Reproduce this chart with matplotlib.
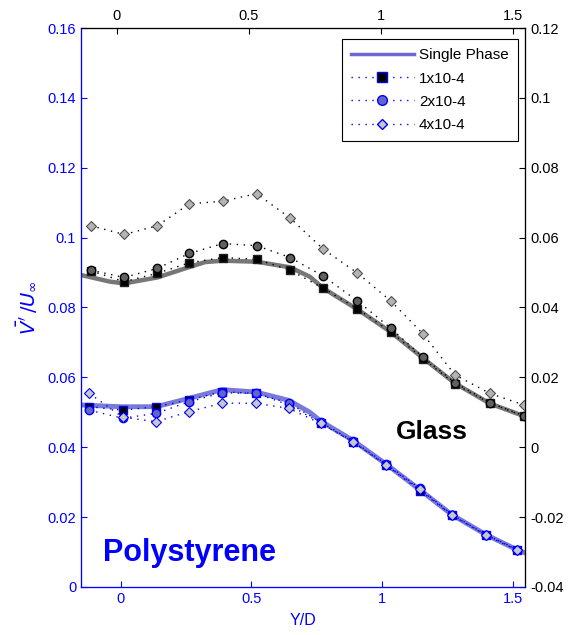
import numpy as np
import matplotlib
matplotlib.use("Agg")
import matplotlib.pyplot as plt
from matplotlib.ticker import FuncFormatter
from matplotlib.lines import Line2D

plt.rcParams["font.family"] = ["Liberation Sans", "DejaVu Sans"]
plt.rcParams["axes.unicode_minus"] = False

# glass data, read against the right axis
x_glass = [-0.115, 0.013, 0.140, 0.263, 0.390, 0.520, 0.648, 0.775, 0.905, 1.033, 1.157, 1.279, 1.413, 1.543]
glass_1e4 = [0.0505, 0.0474, 0.0498, 0.0528, 0.0543, 0.0538, 0.0507, 0.0455, 0.0397, 0.0330, 0.0254, 0.0181, 0.0126, 0.0089]
glass_2e4 = [0.0507, 0.0486, 0.0512, 0.0555, 0.0583, 0.0577, 0.0543, 0.0490, 0.0419, 0.0341, 0.0257, 0.0185, 0.0127, 0.0090]
glass_4e4 = [0.0634, 0.0609, 0.0634, 0.0697, 0.0704, 0.0726, 0.0656, 0.0567, 0.0499, 0.0419, 0.0324, 0.0207, 0.0154, 0.0121]
x_glass_sp = [-0.152, -0.041, 0.013, 0.140, 0.263, 0.323, 0.390, 0.520, 0.648, 0.724, 0.775, 0.905, 1.033, 1.157, 1.279, 1.413, 1.547]
glass_sp = [0.0493, 0.0474, 0.0469, 0.0486, 0.0516, 0.0530, 0.0534, 0.0531, 0.0515, 0.0488, 0.0455, 0.0395, 0.0330, 0.0255, 0.0183, 0.0125, 0.0088]

# polystyrene data, read against the left axis
x_poly = [-0.120, 0.008, 0.135, 0.261, 0.388, 0.518, 0.644, 0.765, 0.888, 1.015, 1.145, 1.267, 1.397, 1.518]
poly_1e4 = [0.0516, 0.0506, 0.0516, 0.0535, 0.0559, 0.0554, 0.0521, 0.0470, 0.0416, 0.0349, 0.0276, 0.0206, 0.0148, 0.0105]
poly_2e4 = [0.0506, 0.0483, 0.0497, 0.0530, 0.0556, 0.0554, 0.0526, 0.0472, 0.0418, 0.0352, 0.0282, 0.0207, 0.0150, 0.0107]
poly_4e4 = [0.0554, 0.0486, 0.0473, 0.0502, 0.0526, 0.0526, 0.0511, 0.0468, 0.0416, 0.0350, 0.0280, 0.0206, 0.0150, 0.0106]
x_poly_sp = [-0.152, 0.000, 0.135, 0.261, 0.388, 0.518, 0.644, 0.724, 0.765, 0.888, 1.015, 1.145, 1.267, 1.397, 1.518, 1.547]
poly_sp = [0.0521, 0.0516, 0.0516, 0.0540, 0.0565, 0.0558, 0.0534, 0.0500, 0.0475, 0.0420, 0.0352, 0.0278, 0.0207, 0.0150, 0.0106, 0.0098]

labels = ["Single Phase", "1x10-4", "2x10-4", "4x10-4"]

BLUE = "#0000ff"
fmt = FuncFormatter(lambda v, p: "%g" % round(v, 4))

fig = plt.figure(figsize=(5.69, 6.35), dpi=100)
ax = fig.add_axes([0.1424, 0.0756, 0.7803, 0.8803])
ax_r = ax.twinx()
ax_t = ax.twiny()

ax.set_xlim(-0.152, 1.547)
ax.set_ylim(0, 0.16)
ax_r.set_ylim(-0.04, 0.12)
ax_t.set_xlim(-0.135, 1.547)

# polystyrene on left axis
ax.plot(x_poly_sp, poly_sp, color="#6a6ad2", lw=3.5, alpha=0.9, zorder=2)
dot = (0, (1, 4))
ax.plot(x_poly, poly_1e4, ls=dot, color=BLUE, lw=1, marker="s", ms=6,
        mfc="black", mec=BLUE, mew=1, zorder=3)
ax.plot(x_poly, poly_2e4, ls=dot, color=BLUE, lw=1, marker="o", ms=6,
        mfc="#6464c8", mec=BLUE, mew=1, zorder=4)
ax.plot(x_poly, poly_4e4, ls=dot, color=BLUE, lw=1, marker="D", ms=5,
        mfc="#c8c8c8", mec=BLUE, mew=0.8, zorder=5)

# glass on right axis
ax_r.plot(x_glass_sp, glass_sp, color="#777777", lw=3.2, zorder=2)
ax_r.plot(x_glass, glass_1e4, ls=dot, color="black", lw=1, marker="s", ms=6,
          mfc="black", mec="#202020", zorder=3)
ax_r.plot(x_glass, glass_2e4, ls=dot, color="black", lw=1, marker="o", ms=6,
          mfc="#606060", mec="black", zorder=4)
ax_r.plot(x_glass, glass_4e4, ls=dot, color="black", lw=1, marker="D", ms=5,
          mfc="#b4b4b4", mec="#505050", mew=0.8, zorder=5)

# ticks and spines
ax.set_xticks([0, 0.5, 1, 1.5])
ax.set_yticks(np.arange(0, 0.161, 0.02))
ax.xaxis.set_major_formatter(fmt)
ax.yaxis.set_major_formatter(fmt)
ax.tick_params(axis="both", direction="in", length=4.5, colors=BLUE, labelsize=10.5, top=False, right=False)
ax_r.set_yticks(np.arange(-0.04, 0.121, 0.02))
ax_r.yaxis.set_major_formatter(fmt)
ax_r.tick_params(axis="y", direction="in", length=4.5, colors="black", labelsize=10.5)
ax_t.set_xticks([0, 0.5, 1, 1.5])
ax_t.xaxis.set_major_formatter(fmt)
ax_t.tick_params(axis="x", direction="in", length=4.5, colors="black", labelsize=10.5)

for a in (ax, ax_r, ax_t):
    a.spines["left"].set_color(BLUE)
    a.spines["bottom"].set_color(BLUE)
    a.spines["top"].set_color("black")
    a.spines["right"].set_color("black")

ax.set_xlabel("Y/D", color=BLUE, fontsize=11.5, labelpad=5)
ax.set_ylabel(r"$\bar{V'}\,/U_\infty$", color=BLUE, fontsize=14, labelpad=6)

ax.text(-0.068, 0.0055, "Polystyrene", color=BLUE, fontsize=22, fontweight="bold", ha="left", va="bottom")
ax_r.text(1.19, 0.0045, "Glass", color="black", fontsize=19, fontweight="bold", ha="center", va="center")

handles = [
    Line2D([], [], color="#6a6ad2", lw=2.5),
    Line2D([], [], ls=dot, color=BLUE, lw=1, marker="s", ms=7, mfc="black", mec=BLUE),
    Line2D([], [], ls=dot, color=BLUE, lw=1, marker="o", ms=7, mfc="#6464c8", mec=BLUE),
    Line2D([], [], ls=dot, color=BLUE, lw=1, marker="D", ms=5, mfc="#c8c8c8", mec=BLUE),
]
leg = ax_t.legend(handles, labels, loc="upper right", bbox_to_anchor=(0.984, 0.98),
                  fontsize=11, frameon=True, fancybox=False, framealpha=1,
                  edgecolor="black", handlelength=4.1, handletextpad=0.35,
                  borderpad=0.6, borderaxespad=0, labelspacing=0.6)
leg.get_frame().set_linewidth(0.8)

fig.savefig("out.png", dpi=100)
